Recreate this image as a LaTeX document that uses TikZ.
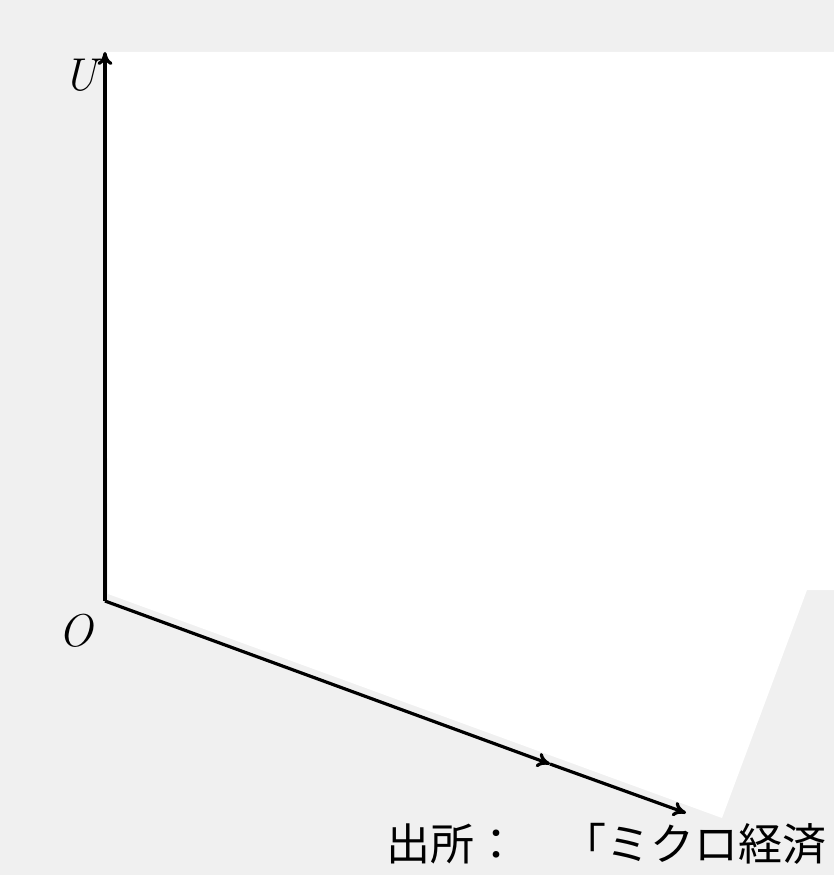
\documentclass[tikz,border=0pt]{standalone}
\usepackage{fontspec}
\newfontfamily\cjk{Noto Sans CJK JP}
\usetikzlibrary{positioning,arrows.meta}

\begin{document}
\begin{tikzpicture}[x=1pt,y=-1pt,line width=3.2pt,>={To[length=13pt,width=15pt]}]
	\useasboundingbox (0,0) rectangle (834,875);
	% scanned page
	\fill[black!6] (0,0) rectangle (834,875);
	\fill[white] (105,52) -- (834,52) -- (834,590) -- (807,590) -- (722,818) -- (108,594) -- cycle;
	% axes
	\coordinate (O) at (105,601);
	\coordinate (Utip) at (105,52);
	\coordinate (mid) at (550,764);
	\coordinate (Xtip) at (686,813);
	\draw[->] (O) -- (Utip);
	\draw[->] (O) -- (mid);
	\draw[->] (mid) -- (Xtip);
	% labels
	\node (Ulabel) at (80,75) {\fontsize{46}{50}\selectfont\itshape U};
	\node (Olabel) at (76,631) {\fontsize{46}{50}\selectfont\itshape O};
	% source
	\node[anchor=base west,inner sep=0pt] (source) at (385,860) {\cjk\fontsize{44}{48}\selectfont 出所：　「ミクロ経済};
\end{tikzpicture}
\end{document}
